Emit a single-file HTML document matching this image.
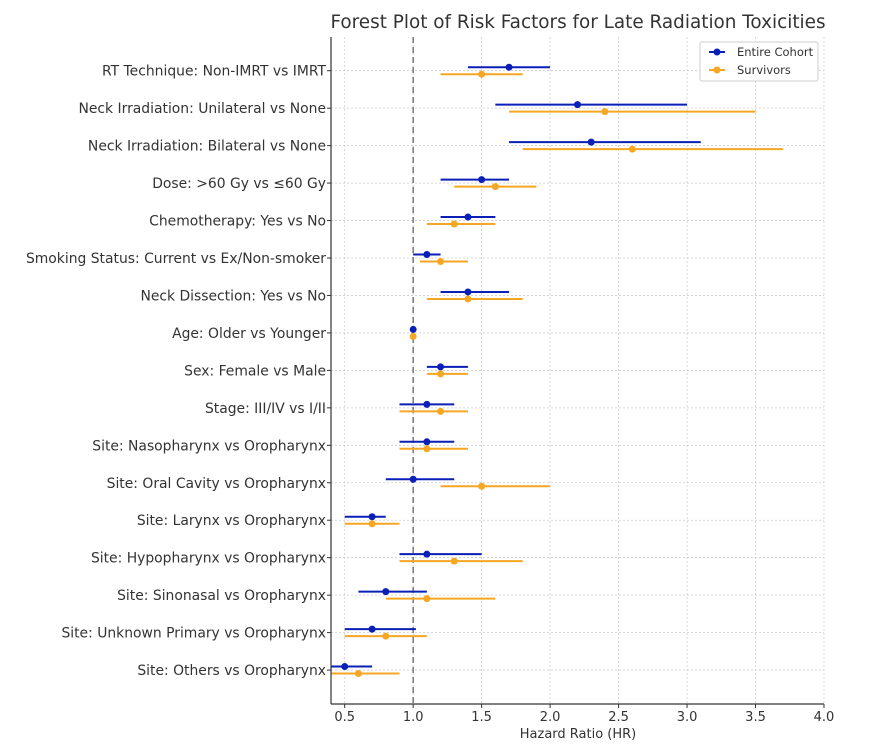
<!DOCTYPE html>
<html><head><meta charset="utf-8"><style>
body{margin:0;background:#fff;font-family:"Liberation Sans","DejaVu Sans",sans-serif}
svg text{font-family:"DejaVu Sans","Liberation Sans",sans-serif;fill:#333}
</style></head><body>
<svg id="chart" width="875" height="747" viewBox="0 0 875 747">
<text x="578" y="28" font-size="18.4" text-anchor="middle">Forest Plot of Risk Factors for Late Radiation Toxicities</text>
<g id="grid"></g><g id="marks"></g><g id="axes"></g>
<text x="578" y="738" font-size="13" text-anchor="middle">Hazard Ratio (HR)</text>
<g>
<rect x="700" y="42" width="118" height="39" fill="#fff" stroke="#ccc" rx="2"/>
<line x1="709" y1="52" x2="725" y2="52" stroke="#0a1fb5" stroke-width="2"/><circle cx="717" cy="52" r="3.5" fill="#0a1fb5"/>
<text x="737" y="56" font-size="11.5">Entire Cohort</text>
<line x1="709" y1="70" x2="725" y2="70" stroke="#f5a623" stroke-width="2"/><circle cx="717" cy="70" r="3.5" fill="#f5a623"/>
<text x="737" y="74" font-size="11.5">Survivors</text>
</g>
</svg>
<script>
const categories=["RT Technique: Non-IMRT vs IMRT","Neck Irradiation: Unilateral vs None","Neck Irradiation: Bilateral vs None","Dose: >60 Gy vs ≤60 Gy","Chemotherapy: Yes vs No","Smoking Status: Current vs Ex/Non-smoker","Neck Dissection: Yes vs No","Age: Older vs Younger","Sex: Female vs Male","Stage: III/IV vs I/II","Site: Nasopharynx vs Oropharynx","Site: Oral Cavity vs Oropharynx","Site: Larynx vs Oropharynx","Site: Hypopharynx vs Oropharynx","Site: Sinonasal vs Oropharynx","Site: Unknown Primary vs Oropharynx","Site: Others vs Oropharynx"];
const cohortHR=[1.7,2.2,2.3,1.5,1.4,1.1,1.4,1.0,1.2,1.1,1.1,1.0,0.7,1.1,0.8,0.7,0.5];
const cohortLo=[1.4,1.6,1.7,1.2,1.2,1.0,1.2,1.0,1.1,0.9,0.9,0.8,0.5,0.9,0.6,0.5,0.4];
const cohortHi=[2.0,3.0,3.1,1.7,1.6,1.2,1.7,1.0,1.4,1.3,1.3,1.3,0.8,1.5,1.1,1.02,0.7];
const survHR=[1.5,2.4,2.6,1.6,1.3,1.2,1.4,1.0,1.2,1.2,1.1,1.5,0.7,1.3,1.1,0.8,0.6];
const survLo=[1.2,1.7,1.8,1.3,1.1,1.05,1.1,1.0,1.1,0.9,0.9,1.2,0.5,0.9,0.8,0.5,0.4];
const survHi=[1.8,3.5,3.7,1.9,1.6,1.4,1.8,1.0,1.4,1.4,1.4,2.0,0.9,1.8,1.6,1.1,0.9];
const xTicks=[0.5,1.0,1.5,2.0,2.5,3.0,3.5,4.0];
const NS="http://www.w3.org/2000/svg";
const X0=331,X1=824,Y0=37,Y1=704,XMIN=0.4,XMAX=4.0;
const xs=v=>X0+(v-XMIN)/(XMAX-XMIN)*(X1-X0);
const ys=i=>70.7+i*37.46;
function mk(p,t,a){const e=document.createElementNS(NS,t);for(const k in a)e.setAttribute(k,a[k]);p.appendChild(e);return e;}
const grid=document.getElementById('grid'),marks=document.getElementById('marks'),axes=document.getElementById('axes');
xTicks.forEach(t=>{const g=mk(grid,'line',{x1:xs(t),x2:xs(t),y1:Y0,y2:Y1,stroke:'#ccc','stroke-dasharray':'2,2','stroke-width':0.8});


const tk=mk(axes,'line',{x1:xs(t),x2:xs(t),y1:Y1,y2:Y1+4,stroke:'#333'});


const tl=mk(axes,'text',{x:xs(t),y:Y1+17,'font-size':13,'text-anchor':'middle'});tl.textContent=t.toFixed(1);

});
categories.forEach((c,i)=>{const g=mk(grid,'line',{x1:X0,x2:X1,y1:ys(i),y2:ys(i),stroke:'#ccc','stroke-dasharray':'2,2','stroke-width':0.8});


mk(axes,'line',{x1:X0-4,x2:X0,y1:ys(i),y2:ys(i),stroke:'#333'});
const t=mk(axes,'text',{x:X0-5,y:ys(i)+5,'font-size':13.9,'text-anchor':'end'});t.textContent=c;

});
const ref=mk(marks,'line',{x1:xs(1),x2:xs(1),y1:Y0,y2:Y1,stroke:'#777','stroke-dasharray':'6,4','stroke-width':1.5});


function series(lo,hr,hi,col,off,name){hr.forEach((v,i)=>{const y=ys(i)+off;
const l=mk(marks,'line',{x1:xs(lo[i]),x2:xs(hi[i]),y1:y,y2:y,stroke:col,'stroke-width':2});


const p=mk(marks,'circle',{cx:xs(v),cy:y,r:3.5,fill:col});

});}
series(cohortLo,cohortHR,cohortHi,'#0a1fb5',-3.5,'entire-cohort');
series(survLo,survHR,survHi,'#f5a623',3.5,'survivors');
mk(axes,'line',{x1:X0,x2:X0,y1:Y0,y2:Y1,stroke:'#333','stroke-width':1.2});
mk(axes,'line',{x1:X0,x2:X1,y1:Y1,y2:Y1,stroke:'#333','stroke-width':1.2});
</script>
</body></html>
